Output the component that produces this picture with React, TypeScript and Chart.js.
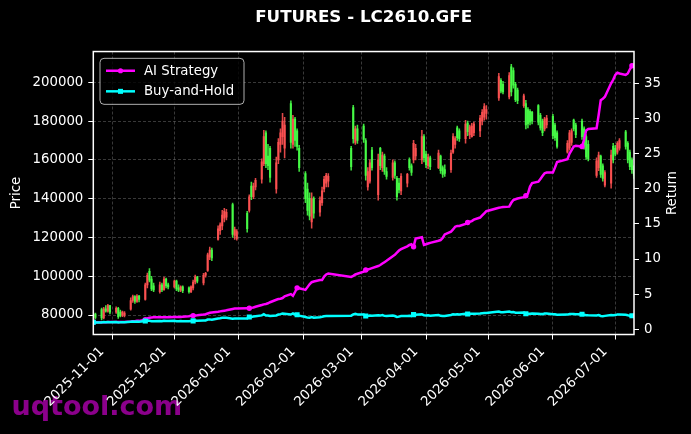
import { useEffect, useRef } from "react";
import { Chart, registerables } from "chart.js";

Chart.register(...registerables);

// ---------------- data ----------------
const chartTitle = "FUTURES - LC2610.GFE";
const watermarkText = "uqtool.com";
const priceAxisTitle = "Price";
const returnAxisTitle = "Return";
const seriesLabels = ["AI Strategy", "Buy-and-Hold"];

const dates = [
  "2025-10-23","2025-10-24","2025-10-27","2025-10-28","2025-10-29","2025-10-30","2025-10-31",
  "2025-11-03","2025-11-04","2025-11-05","2025-11-06","2025-11-07","2025-11-10","2025-11-11","2025-11-12","2025-11-13","2025-11-14",
  "2025-11-17","2025-11-18","2025-11-19","2025-11-20","2025-11-21","2025-11-24","2025-11-25","2025-11-26","2025-11-27","2025-11-28",
  "2025-12-01","2025-12-02","2025-12-03","2025-12-04","2025-12-05","2025-12-08","2025-12-09","2025-12-10","2025-12-11","2025-12-12",
  "2025-12-15","2025-12-16","2025-12-17","2025-12-18","2025-12-19","2025-12-22","2025-12-23","2025-12-24","2025-12-25","2025-12-26",
  "2025-12-29","2025-12-30","2025-12-31",
  "2026-01-05","2026-01-06","2026-01-07","2026-01-08","2026-01-09","2026-01-12","2026-01-13","2026-01-14","2026-01-15","2026-01-16",
  "2026-01-19","2026-01-20","2026-01-21","2026-01-22","2026-01-23","2026-01-26","2026-01-27","2026-01-28","2026-01-29","2026-01-30",
  "2026-02-02","2026-02-03","2026-02-04","2026-02-05","2026-02-06","2026-02-09","2026-02-10","2026-02-11","2026-02-12","2026-02-13",
  "2026-02-24","2026-02-25","2026-02-26","2026-02-27",
  "2026-03-02","2026-03-03","2026-03-04","2026-03-05","2026-03-06","2026-03-09","2026-03-10","2026-03-11","2026-03-12","2026-03-13",
  "2026-03-16","2026-03-17","2026-03-18","2026-03-19","2026-03-20","2026-03-23","2026-03-24","2026-03-25","2026-03-26","2026-03-27",
  "2026-03-30","2026-03-31",
  "2026-04-01","2026-04-02","2026-04-03","2026-04-07","2026-04-08","2026-04-09","2026-04-10","2026-04-13","2026-04-14","2026-04-15",
  "2026-04-16","2026-04-17","2026-04-20","2026-04-21","2026-04-22","2026-04-23","2026-04-24","2026-04-27","2026-04-28","2026-04-29",
  "2026-04-30",
  "2026-05-06","2026-05-07","2026-05-08","2026-05-11","2026-05-12","2026-05-13","2026-05-14","2026-05-15","2026-05-18","2026-05-19",
  "2026-05-20","2026-05-21","2026-05-22","2026-05-25","2026-05-26","2026-05-27","2026-05-28","2026-05-29",
  "2026-06-01","2026-06-02","2026-06-03","2026-06-08","2026-06-09","2026-06-10","2026-06-11","2026-06-12","2026-06-15","2026-06-16",
  "2026-06-17","2026-06-18","2026-06-22","2026-06-23","2026-06-24","2026-06-25","2026-06-26","2026-06-29","2026-06-30",
  "2026-07-01","2026-07-02","2026-07-03","2026-07-06","2026-07-07","2026-07-08","2026-07-09","2026-07-10",
];

const opens = [
  77500,80500,82800,78500,83200,82000,84800,81500,83500,81500,
  79800,80000,83000,87500,89500,87000,89800,88000,95500,102500,
  98500,95000,92000,95500,93000,98500,95500,94500,97500,94000,
  92800,94500,94000,92000,94000,97000,99500,96500,100500,103000,
  110000,113500,119000,123500,126000,130000,130500,137000,121000,119500,
  132500,134000,146500,141000,146000,150000,158000,174000,162000,166000,
  145000,160000,168000,172000,166000,189000,168000,181000,175000,166000,
  153000,145000,140000,128000,140000,133000,138000,145000,148000,149000,
  166000,187000,169000,176000,177500,170000,146000,149000,165000,142000,
  166000,156000,162000,154000,151000,158500,150500,148000,144000,148000,
  160000,157000,160000,162000,160000,172000,163000,157000,161000,156000,
  162000,156000,155000,155000,164000,168000,176500,175000,171000,179000,
  173000,172000,174000,175000,180000,182000,184000,192000,201000,199000,
  192500,208000,206000,199000,196000,188000,189000,186000,185000,184500,
  188000,183000,180000,176000,178000,182500,178000,174000,164000,166000,
  169000,180500,178000,180000,176000,172000,168000,152000,156000,162000,
  157000,147000,148000,167000,166000,164000,166000,174500,168500,164000,
  160000,155000,
];

const highs = [
  81500,81000,83600,84000,84800,85500,85000,84200,84000,82500,
  82000,81800,88800,90300,90000,90500,90200,96500,101600,104000,
  100000,96500,97000,96500,99500,99000,96500,98000,98000,95500,
  95000,95000,94500,95000,98000,100600,100000,101500,102000,112000,
  115000,114500,126000,127500,134000,135000,134500,137700,125300,124000,
  133500,142000,148500,148000,150500,160500,175300,175000,168000,167000,
  161400,171000,176000,184000,182000,190500,183000,182000,176000,167500,
  154000,148000,143000,143000,141000,141000,146000,151500,153100,153000,
  167000,188200,177500,178000,178500,171000,156000,160000,166500,163000,
  166500,164000,163000,156000,160000,159500,151500,150500,153000,153100,
  161000,158000,170100,168000,175300,173000,164500,163000,162000,165000,
  162500,157000,157500,165000,173600,172000,177500,176000,180400,180000,
  178000,178800,179500,183000,186000,189000,188000,204600,202000,200500,
  205000,209300,207500,200000,197000,194000,190700,187000,186000,185000,
  188500,184000,181000,182000,183000,183500,179000,175000,170000,175300,
  176000,181000,179000,181000,177000,173000,170000,161000,164000,162500,
  158000,154500,165000,168500,167500,169500,171000,175300,169500,165000,
  161000,157000,
];

const lows = [
  76500,78000,77500,78000,81500,81500,80500,80800,78200,79000,
  79200,79000,82500,86500,86000,86500,86800,87700,94000,97000,
  92500,92000,91300,92000,92800,94000,93500,94000,92500,92000,
  92000,91500,91300,91500,93000,96000,96500,95500,99500,102500,
  108500,108000,118600,121500,124000,128000,129000,120000,119000,118600,
  122700,133000,139500,140000,144500,148000,157000,156000,155000,148500,
  142800,158000,164000,168000,161000,166000,166000,167000,165000,154000,
  138000,131500,129000,124800,130000,131000,136500,143500,146000,146000,
  154700,168600,168000,168500,169000,149500,144400,148000,154700,139200,
  155000,154000,152500,150000,149500,150500,139200,143000,142000,146000,
  154700,152000,158500,160000,158000,159000,156000,155500,155000,155500,
  153000,151000,151500,153500,163400,166000,170000,169500,168600,172500,
  171000,171700,172500,172000,178000,180500,181000,190700,194500,194000,
  191500,193000,197000,190000,189000,187000,176000,176500,178000,178500,
  178000,175300,172500,175000,176500,171000,170000,166000,163500,165000,
  167500,175000,171500,170500,165500,160300,159500,151000,154500,151000,
  149000,146000,145400,158500,162000,163000,165000,165500,158500,155000,
  153000,150500,
];

const closes = [
  80500,78800,78500,83200,82000,84800,81500,83500,79200,79800,
  81500,81000,87500,89500,87000,89800,88000,95500,100500,98000,
  93500,93000,95500,93000,98500,95000,94500,97500,93500,92800,
  94500,92500,92000,94500,97000,99500,97500,100500,101500,111000,
  113500,109500,124500,126500,131500,133500,133000,121500,124000,123000,
  124500,141000,141000,146500,149500,159000,172000,158000,157000,151000,
  158500,169000,174000,180000,178000,169000,181000,170000,167000,156000,
  140000,134000,131000,140000,132500,139000,144000,150000,152000,151500,
  156500,171000,176000,170000,170500,152000,154000,158500,156000,160000,
  157000,162500,154000,151500,158500,152000,141000,144500,151500,152500,
  156000,153500,168500,166000,172000,161000,157500,161500,156500,163500,
  154500,152500,153000,163500,172000,171000,171500,171000,178500,174500,
  177000,177500,178500,181500,184500,187500,186000,203000,195500,195000,
  203500,195000,198500,191000,190500,193000,178000,178500,179500,180000,
  179500,176500,174000,181000,181500,172500,171500,167000,168500,174000,
  175000,176000,173000,172000,167000,161500,160500,159500,162500,152500,
  150500,153500,162500,160000,163000,168500,170000,167000,160000,156500,
  155000,152000,
];

const aiStrategyReturn = [
  1.00,1.00,1.00,1.02,1.02,1.05,1.03,1.05,1.03,1.03,
  1.05,1.05,1.10,1.15,1.15,1.20,1.20,1.35,1.55,1.65,
  1.68,1.70,1.70,1.70,1.72,1.72,1.72,1.74,1.74,1.75,
  1.76,1.78,1.85,1.93,1.95,1.98,2.00,2.10,2.15,2.25,
  2.35,2.40,2.50,2.55,2.60,2.65,2.70,2.90,2.95,2.95,
  3.00,3.00,3.05,3.10,3.20,3.45,3.55,3.60,3.70,3.85,
  4.20,4.30,4.35,4.45,4.70,5.00,4.75,5.30,5.90,5.83,
  5.60,6.00,6.40,6.70,6.80,7.00,7.00,7.50,7.80,7.95,
  7.45,7.60,7.80,7.90,8.20,8.43,8.50,8.60,8.70,9.00,
  9.15,9.35,9.55,9.75,10.40,10.60,10.90,11.20,11.40,11.80,
  12.00,12.10,11.75,12.90,13.10,12.00,12.10,12.20,12.30,12.60,
  12.70,13.00,13.50,13.90,14.20,14.60,14.70,14.70,15.00,15.20,
  15.30,15.40,15.60,15.90,16.20,16.50,16.80,17.30,17.35,17.40,
  17.45,18.00,18.40,18.50,18.60,18.80,19.00,19.30,20.30,20.80,
  21.00,21.40,21.80,22.20,22.30,22.30,23.00,23.80,24.20,25.00,
  25.50,26.00,26.10,26.00,27.00,28.30,28.50,28.60,30.50,32.60,
  32.80,33.10,35.00,35.50,36.20,36.50,36.40,36.20,36.40,37.00,
  37.50,37.70,
];

const buyHoldReturn = [
  1.00,0.98,0.98,1.03,1.02,1.05,1.01,1.04,0.98,0.99,
  1.01,1.01,1.09,1.11,1.08,1.12,1.09,1.19,1.25,1.22,
  1.16,1.16,1.19,1.16,1.22,1.18,1.17,1.21,1.16,1.15,
  1.17,1.15,1.14,1.17,1.20,1.24,1.21,1.25,1.26,1.38,
  1.41,1.36,1.55,1.57,1.63,1.66,1.65,1.51,1.54,1.53,
  1.55,1.75,1.75,1.82,1.86,1.98,2.14,1.96,1.95,1.88,
  1.97,2.10,2.16,2.24,2.21,2.10,2.25,2.11,2.07,1.94,
  1.74,1.66,1.63,1.74,1.65,1.73,1.79,1.86,1.89,1.88,
  1.94,2.12,2.19,2.11,2.12,1.89,1.91,1.97,1.94,1.99,
  1.95,2.02,1.91,1.88,1.97,1.89,1.75,1.80,1.88,1.89,
  1.94,1.91,2.09,2.06,2.14,2.00,1.96,2.01,1.94,2.03,
  1.92,1.89,1.90,2.03,2.14,2.12,2.13,2.12,2.22,2.17,
  2.20,2.20,2.22,2.25,2.29,2.33,2.31,2.52,2.43,2.42,
  2.53,2.42,2.47,2.37,2.37,2.40,2.21,2.22,2.23,2.24,
  2.23,2.19,2.16,2.25,2.25,2.14,2.13,2.07,2.09,2.16,
  2.17,2.19,2.15,2.14,2.07,2.01,1.99,1.98,2.02,1.89,
  1.87,1.91,2.02,1.99,2.02,2.09,2.11,2.07,1.99,1.94,
  1.93,1.89,
];

const monthTickLabels = [
  "2025-11-01","2025-12-01","2026-01-01","2026-02-01","2026-03-01",
  "2026-04-01","2026-05-01","2026-06-01","2026-07-01",
];
const priceTicks = [80000, 100000, 120000, 140000, 160000, 180000, 200000];
const returnTicks = [0, 5, 10, 15, 20, 25, 30, 35];
const priceRange = [69944, 215883];
const returnRange = [-0.74, 39.52];
const markerEvery = 17;

// ---------------- helpers ----------------
const FONT = "'DejaVu Sans', sans-serif";
const ORIGIN = Date.UTC(2025, 10, 1);
function dayNum(s: string): number {
  const [y, m, d] = s.split("-").map(Number);
  return Math.round((Date.UTC(y, m - 1, d) - ORIGIN) / 86400000);
}

const UP = "rgba(255,82,82,0.88)";
const DOWN = "rgba(72,255,72,0.88)";
const MAGENTA = "#ff00ff";
const CYAN = "#00ffff";
const GRID = "rgba(255,255,255,0.28)";

const backgroundPlugin = {
  id: "bgWatermark",
  beforeDraw(chart: any) {
    const ctx = chart.ctx;
    ctx.save();
    ctx.fillStyle = "#000";
    ctx.fillRect(0, 0, chart.width, chart.height);
    ctx.font = `bold 27px ${FONT}`;
    ctx.fillStyle = "#8b008b";
    ctx.textAlign = "left";
    ctx.textBaseline = "alphabetic";
    ctx.fillText(watermarkText, 11.5, 415);
    ctx.restore();
  },
};

const framePlugin = {
  id: "frame",
  afterDatasetsDraw(chart: any) {
    const { ctx, chartArea: a } = chart;
    ctx.save();
    ctx.strokeStyle = "#ffffff";
    ctx.lineWidth = 1.5;
    ctx.strokeRect(a.left, a.top, a.right - a.left, a.bottom - a.top);
    ctx.restore();
  },
};

const overlayPlugin = {
  id: "overlay",
  afterDraw(chart: any) {
    const { ctx, chartArea: a } = chart;
    ctx.save();
    // right axis title (reads bottom-to-top)
    ctx.font = `13.3px ${FONT}`;
    ctx.fillStyle = "#ffffff";
    ctx.textAlign = "center";
    ctx.textBaseline = "middle";
    ctx.translate(673, (a.top + a.bottom) / 2);
    ctx.rotate(-Math.PI / 2);
    ctx.fillText(returnAxisTitle, 0, 0);
    ctx.restore();

    // legend
    ctx.save();
    const x0 = a.left + 6.7;
    const y0 = a.top + 6.8;
    const w = 144;
    const h = 46;
    const r = 4;
    ctx.beginPath();
    ctx.moveTo(x0 + r, y0);
    ctx.lineTo(x0 + w - r, y0);
    ctx.quadraticCurveTo(x0 + w, y0, x0 + w, y0 + r);
    ctx.lineTo(x0 + w, y0 + h - r);
    ctx.quadraticCurveTo(x0 + w, y0 + h, x0 + w - r, y0 + h);
    ctx.lineTo(x0 + r, y0 + h);
    ctx.quadraticCurveTo(x0, y0 + h, x0, y0 + h - r);
    ctx.lineTo(x0, y0 + r);
    ctx.quadraticCurveTo(x0, y0, x0 + r, y0);
    ctx.closePath();
    ctx.fillStyle = "rgba(0,0,0,0.8)";
    ctx.fill();
    ctx.strokeStyle = "rgba(204,204,204,0.85)";
    ctx.lineWidth = 1;
    ctx.stroke();

    const rows = [
      { label: seriesLabels[0], color: MAGENTA, square: false },
      { label: seriesLabels[1], color: CYAN, square: true },
    ];
    rows.forEach((row, i) => {
      const cy = y0 + 12.4 + i * 20.6;
      ctx.strokeStyle = row.color;
      ctx.fillStyle = row.color;
      ctx.lineWidth = 2.5;
      ctx.beginPath();
      ctx.moveTo(x0 + 6, cy);
      ctx.lineTo(x0 + 35, cy);
      ctx.stroke();
      const mx = x0 + 20.5;
      if (row.square) {
        ctx.fillRect(mx - 2.5, cy - 2.5, 5, 5);
      } else {
        ctx.beginPath();
        ctx.arc(mx, cy, 2.6, 0, Math.PI * 2);
        ctx.fill();
      }
      ctx.fillStyle = "#ffffff";
      ctx.font = `13.3px ${FONT}`;
      ctx.textAlign = "left";
      ctx.textBaseline = "middle";
      ctx.fillText(row.label, x0 + 44, cy + 0.5);
    });
    ctx.restore();
  },
};

export default function App() {
  const ref = useRef<HTMLCanvasElement>(null);

  useEffect(() => {
    document.body.style.margin = "0";
    document.body.style.background = "#000";
    const xs = dates.map(dayNum);
    const colorAt = (i: number) => (closes[i] >= opens[i] ? UP : DOWN);
    const tickFont = { family: FONT, size: 13.3 };

    const chart = new Chart(ref.current as HTMLCanvasElement, {
      type: "bar",
      data: {
        datasets: [
          {
            type: "line",
            label: seriesLabels[1],
            data: xs.map((x, i) => ({ x, y: buyHoldReturn[i] })),
            yAxisID: "y1",
            borderColor: CYAN,
            backgroundColor: CYAN,
            borderWidth: 2.5,
            pointStyle: "rect",
            pointRadius: (c: any) => (c.dataIndex % markerEvery === 0 ? 3.6 : 0),
            pointBorderWidth: 0,
            pointHoverRadius: 0,
            tension: 0,
            order: 0,
          } as any,
          {
            type: "line",
            label: seriesLabels[0],
            data: xs.map((x, i) => ({ x, y: aiStrategyReturn[i] })),
            yAxisID: "y1",
            borderColor: MAGENTA,
            backgroundColor: MAGENTA,
            borderWidth: 2.5,
            pointStyle: "circle",
            pointRadius: (c: any) => (c.dataIndex % markerEvery === 0 ? 2.7 : 0),
            pointBorderWidth: 0,
            pointHoverRadius: 0,
            tension: 0,
            order: 1,
          } as any,
          {
            type: "bar",
            label: "body",
            data: xs.map((x, i) => ({ x, y: [opens[i], closes[i]] })),
            yAxisID: "y",
            backgroundColor: (c: any) => colorAt(c.dataIndex),
            borderWidth: 0,
            barThickness: 1.5,
            minBarLength: 1,
            grouped: false,
            order: 2,
          } as any,
          {
            type: "bar",
            label: "wick",
            data: xs.map((x, i) => ({ x, y: [lows[i], highs[i]] })),
            yAxisID: "y",
            backgroundColor: (c: any) => colorAt(c.dataIndex),
            borderWidth: 0,
            barThickness: 0.9,
            grouped: false,
            order: 3,
          } as any,
        ],
      },
      options: {
        responsive: false,
        animation: false,
        events: [],
        layout: { padding: 0 },
        plugins: {
          legend: { display: false },
          tooltip: { enabled: false },
          title: {
            display: true,
            text: chartTitle,
            color: "#ffffff",
            font: { family: FONT, size: 16.7, weight: "bold" },
            padding: { top: 7.5, bottom: 24 },
            fullSize: false,
          },
        },
        scales: {
          x: {
            type: "linear",
            min: dayNum(dates[0]),
            max: dayNum(dates[dates.length - 1]),
            offset: false,
            afterBuildTicks: (s: any) => {
              s.ticks = monthTickLabels.map((t) => ({ value: dayNum(t) }));
            },
            afterFit: (s: any) => {
              s.height = 99.5;
            },
            ticks: {
              color: "#ffffff",
              font: tickFont,
              autoSkip: false,
              minRotation: 45,
              maxRotation: 45,
              padding: 4.5,
              labelOffset: -10,
              callback: (v: any) => {
                const lbl = monthTickLabels.find((t) => dayNum(t) === v);
                return lbl ?? "";
              },
            },
            grid: {
              color: GRID,
              lineWidth: 0.8,
              offset: false,
              tickColor: "#ffffff",
              tickLength: 5,
              tickWidth: 1,
            },
            border: { display: false, dash: [3, 2] },
          },
          y: {
            type: "linear",
            position: "left",
            min: priceRange[0],
            max: priceRange[1],
            afterBuildTicks: (s: any) => {
              s.ticks = priceTicks.map((v) => ({ value: v }));
            },
            afterFit: (s: any) => {
              s.width = 93.3;
            },
            ticks: {
              color: "#ffffff",
              font: tickFont,
              padding: 5,
              callback: (v: any) => String(v),
            },
            grid: {
              color: GRID,
              lineWidth: 0.8,
              tickColor: "#ffffff",
              tickLength: 5,
              tickWidth: 1,
            },
            border: { display: false, dash: [3, 2] },
            title: {
              display: true,
              text: priceAxisTitle,
              color: "#ffffff",
              font: { family: FONT, size: 13.3 },
              padding: { top: 9, bottom: 0 },
            },
          },
          y1: {
            type: "linear",
            position: "right",
            min: returnRange[0],
            max: returnRange[1],
            afterBuildTicks: (s: any) => {
              s.ticks = returnTicks.map((v) => ({ value: v }));
            },
            afterFit: (s: any) => {
              s.width = 57;
            },
            ticks: {
              color: "#ffffff",
              font: tickFont,
              padding: 5,
              callback: (v: any) => String(v),
            },
            grid: {
              drawOnChartArea: false,
              tickColor: "#ffffff",
              tickLength: 5,
              tickWidth: 1,
            },
            border: { display: false },
          },
        },
      } as any,
      plugins: [backgroundPlugin, framePlugin, overlayPlugin],
    });

    return () => chart.destroy();
  }, []);

  return (
    <div
      style={{
        position: "fixed",
        left: 0,
        top: 0,
        width: 691,
        height: 434,
        background: "#000",
      }}
    >
      <canvas ref={ref} width={691} height={434} style={{ display: "block" }} />
    </div>
  );
}
